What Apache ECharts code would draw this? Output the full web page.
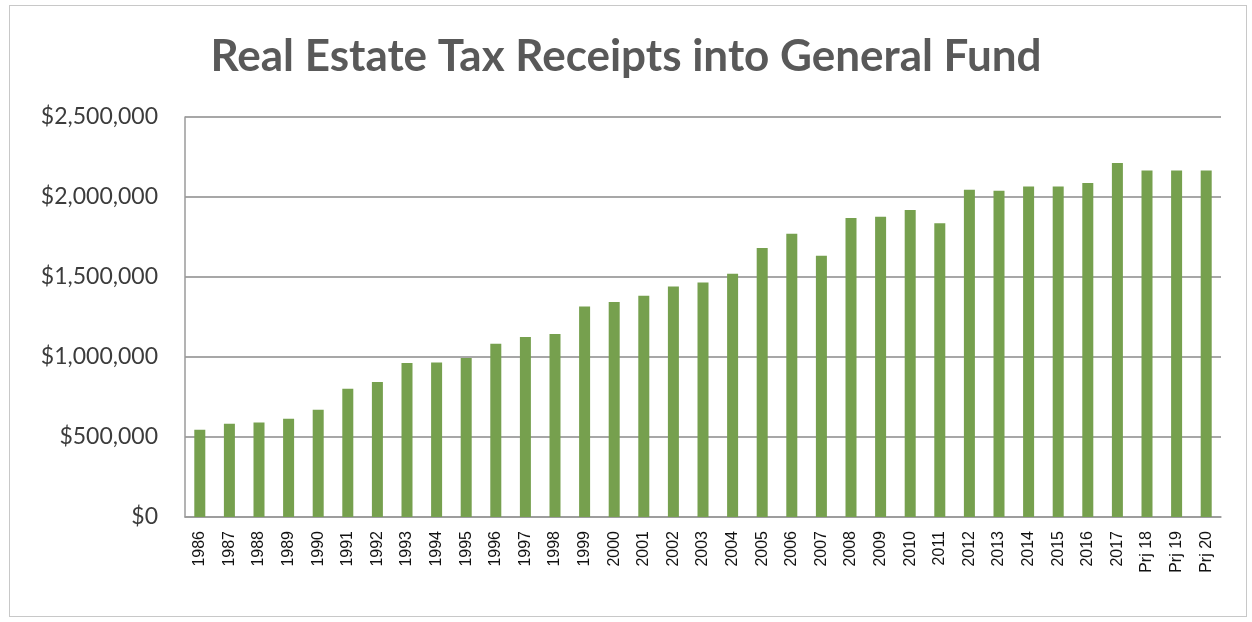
<!DOCTYPE html>
<html>
<head>
<meta charset="utf-8">
<title>Real Estate Tax Receipts into General Fund</title>
<script src="https://cdn.jsdelivr.net/npm/echarts@6/dist/echarts.min.js"></script>
<style>
  html, body { margin: 0; padding: 0; background: #ffffff; }
  #frame {
    position: absolute; left: 9px; top: 5px; width: 1238px; height: 612px;
    border: 1px solid #c8c8c8; box-sizing: border-box;
  }
  #chart { position: absolute; left: 0; top: 0; width: 1252px; height: 622px; }
</style>
</head>
<body>
<div id="frame"></div>
<div id="chart"></div>
<script>
// Fiscal years, actual receipts then projections
const years = [
  '1986', '1987', '1988', '1989', '1990', '1991', '1992', '1993', '1994', '1995',
  '1996', '1997', '1998', '1999', '2000', '2001', '2002', '2003', '2004', '2005',
  '2006', '2007', '2008', '2009', '2010', '2011', '2012', '2013', '2014', '2015',
  '2016', '2017', 'Prj 18', 'Prj 19', 'Prj 20'
];

// Real estate tax receipts (dollars)
const receipts = [
  545000, 583000, 591000, 614000, 671000, 802000, 844000, 962000, 965000, 994000,
  1083000, 1125000, 1144000, 1316000, 1344000, 1383000, 1441000, 1466000, 1521000, 1681000,
  1771000, 1633000, 1869000, 1877000, 1918000, 1836000, 2046000, 2039000, 2066000, 2066000,
  2088000, 2212000, 2166000, 2166000, 2166000
];

// Value axis ticks
const yTicks = [0, 500000, 1000000, 1500000, 2000000, 2500000];

const chart = echarts.init(document.getElementById('chart'), null, { renderer: 'canvas' });

const money = v => '$' + Math.round(v).toString().replace(/\B(?=(\d{3})+(?!\d))/g, ',');

chart.setOption({
  animation: false,
  backgroundColor: 'transparent',
  title: {
    text: 'Real Estate Tax Receipts into General Fund',
    left: 'center',
    top: 30,
    textStyle: {
      fontFamily: 'Lato',
      fontWeight: 'bold',
      fontSize: 44,
      color: '#595959'
    }
  },
  grid: { left: 185, right: 31, top: 117, bottom: 105, containLabel: false },
  xAxis: {
    type: 'category',
    data: years,
    axisLine: { show: true, lineStyle: { color: '#9a9a9a', width: 1.5 } },
    axisTick: { show: false },
    axisLabel: {
      rotate: 90,
      interval: 0,
      margin: 14,
      fontFamily: 'Liberation Sans',
      fontSize: 16,
      color: '#111111'
    }
  },
  yAxis: {
    type: 'value',
    min: yTicks[0],
    max: yTicks[yTicks.length - 1],
    interval: yTicks[1] - yTicks[0],
    axisLine: { show: true, lineStyle: { color: '#9a9a9a', width: 1.5 } },
    axisTick: { show: false },
    splitLine: { show: true, lineStyle: { color: '#8a8a8a', width: 1.5 } },
    axisLabel: {
      margin: 27,
      fontFamily: 'Lato',
      fontSize: 23,
      color: '#3c3c3c',
      formatter: money
    }
  },
  series: [{
    type: 'bar',
    data: receipts,
    barWidth: 11,
    itemStyle: { color: '#76a04e' }
  }]
});
</script>
</body>
</html>
